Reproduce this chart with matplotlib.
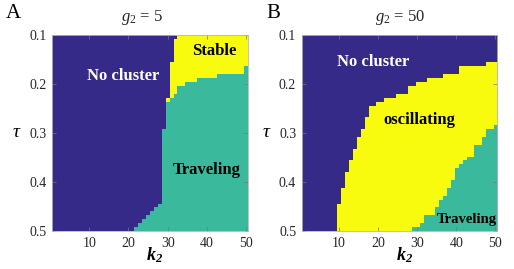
import numpy as np
import matplotlib
matplotlib.use("Agg")
import matplotlib.pyplot as plt
from matplotlib.colors import ListedColormap

plt.rcParams['font.family'] = 'Liberation Serif'
plt.rcParams['mathtext.fontset'] = 'custom'
plt.rcParams['mathtext.rm'] = 'Liberation Serif'
plt.rcParams['mathtext.it'] = 'Liberation Serif:italic'
plt.rcParams['mathtext.bf'] = 'Liberation Serif:bold:italic'

# grid: k2 = 1..50 (columns), tau = 0.1..0.5 in 50 rows (top -> bottom)
k2 = np.arange(1, 51)
n_rows = 50

# per column: number of "No cluster" rows from the top, and first "Traveling" row
# (rows in between are the yellow state)
a_blue_end = [50] * 21 + [49, 48, 47, 46, 45, 44, 43, 24, 16, 7, 1] + [0] * 18
a_green_start = ([50] * 21 + [49, 48, 47, 46, 45, 44, 43, 24, 17, 16, 15, 13, 13]
                 + [12] * 3 + [11] * 5 + [10] * 7 + [8])

b_blue_end = ([50] * 9 + [43, 39, 35, 32, 29, 26, 24, 21, 18, 18, 17, 17, 16, 16, 16,
                          15, 15, 15, 13, 13, 12, 12, 12]
              + [11] * 4 + [10] * 4 + [8] * 7 + [7] * 3)
b_green_start = ([50] * 28 + [49, 49, 48, 46, 46, 46, 44, 42, 41, 39, 37, 34, 33, 32,
                              31, 31, 28, 28, 26, 24, 24, 23])

c_blue = '#352A87'
c_yellow = '#F9FB0E'
c_green = '#3BB99C'
cmap = ListedColormap([c_blue, c_yellow, c_green])


def build(blue_end, green_start):
    z = np.zeros((n_rows, len(k2)))
    rows = np.arange(n_rows)
    for j in range(len(k2)):
        z[(rows >= blue_end[j]) & (rows < green_start[j]), j] = 1
        z[rows >= green_start[j], j] = 2
    return z


fig = plt.figure(figsize=(5.14, 2.69), dpi=100)
axA = fig.add_axes([0.1012, 0.1413, 0.3813, 0.7286])
axB = fig.add_axes([0.587, 0.1413, 0.3805, 0.7286])

panels = [
    (axA, build(a_blue_end, a_green_start), '$g_2$ = 5', 0.458, 'A', 0.026,
     [('No cluster', 0.362, 0.791, 'white', 12),
      ('Stable', 0.827, 0.918, 'black', 12),
      ('Traveling', 0.789, 0.311, 'black', 12)]),
    (axB, build(b_blue_end, b_green_start), '$g_2$ = 50', 0.505, 'B', 0.531,
     [('No cluster', 0.365, 0.864, 'white', 12),
      ('oscillating', 0.603, 0.566, 'black', 12),
      ('Traveling', 0.845, 0.058, 'black', 10.5)]),
]

for ax, z, title, tx, letter, lx, labels in panels:
    ax.imshow(z, cmap=cmap, vmin=0, vmax=2, aspect='auto', interpolation='nearest',
              extent=(k2[0] - 0.5, k2[-1] + 0.5, 0.5, 0.1))
    ax.set_xlim(0.5, 50.5)
    ax.set_ylim(0.5, 0.1)
    ax.set_xticks([10, 20, 30, 40, 50])
    ax.set_yticks([0.1, 0.2, 0.3, 0.4, 0.5])
    ax.set_yticklabels(['0.1', '0.2', '0.3', '0.4', '0.5'])
    ax.tick_params(direction='in', top=True, right=True, length=3, width=0.5,
                   color='#777777', labelsize=10, labelcolor='#262626', pad=4)
    for s in ax.spines.values():
        s.set_color('#b5b5b5')
        s.set_linewidth(0.6)
    ax.set_xlabel(r'$\mathbf{k_2}$', fontsize=13, va='center')
    ax.xaxis.set_label_coords(0.525, -0.125)
    ax.set_ylabel(r'$\tau$', fontsize=14, rotation=0)
    ax.yaxis.set_label_coords(-0.18, 0.5)
    ax.yaxis.label.set_va('center')
    ax.yaxis.label.set_ha('center')
    ax.text(tx, 1.087, title, transform=ax.transAxes, ha='center', va='center',
            fontsize=12, color='#262626')
    for txt, x, y, col, fs in labels:
        ax.text(x, y, txt, transform=ax.transAxes, ha='center', va='center',
                fontsize=fs, fontweight='bold', color=col)
    fig.text(lx, 0.948, letter, ha='center', va='center', fontsize=15)

fig.savefig('out.png', dpi=100)
